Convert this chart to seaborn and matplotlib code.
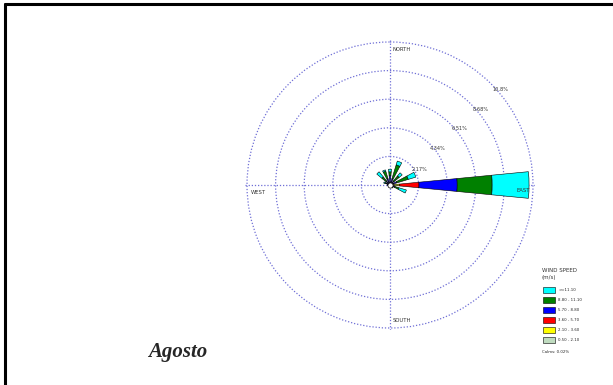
import numpy as np
import matplotlib
matplotlib.use('Agg')
import matplotlib.pyplot as plt
import seaborn as sns
from matplotlib.lines import Line2D

sns.set_style('white')
plt.rcParams['font.family'] = ['DejaVu Sans']

# 16 directions, compass degrees (N, NNE, ... NNW)
directions = np.arange(16) * 22.5
speed_labels = ['0.50 - 2.10', '2.10 - 3.60', '3.60 - 5.70',
                '5.70 - 8.80', '8.80 - 11.10', '>=11.10']
speed_colors = ['#c0dcc0', '#ffff00', '#ff0000', '#0000ff', '#008000', '#00ffff']
# frequency (%) per speed class and direction
c1 = [0.05, 0.05, 0.05, 0.05, 0.30, 0.05, 0.05, 0.03, 0.03, 0.03, 0.03, 0.03, 0.05, 0.05, 0.05, 0.05]
c2 = [0.05, 0.05, 0.05, 0.05, 0.40, 0.05, 0.05, 0.03, 0.03, 0.02, 0.02, 0.03, 0.05, 0.05, 0.05, 0.05]
c3 = [0.10, 0.10, 0.10, 0.15, 1.50, 0.10, 0.05, 0.03, 0.02, 0.02, 0.02, 0.03, 0.05, 0.10, 0.10, 0.10]
c4 = [0.50, 0.30, 0.20, 0.30, 2.90, 0.20, 0.05, 0.02, 0.02, 0.02, 0.02, 0.02, 0.05, 0.10, 0.20, 0.30]
c5 = [0.30, 1.10, 0.50, 0.90, 2.65, 0.30, 0.05, 0.00, 0.00, 0.00, 0.00, 0.00, 0.00, 0.10, 0.40, 0.60]
c6 = [0.20, 0.30, 0.30, 0.60, 2.80, 0.60, 0.05, 0.00, 0.00, 0.00, 0.00, 0.00, 0.00, 0.10, 0.50, 0.10]
classes = [c1, c2, c3, c4, c5, c6]
rings = [2.17, 4.34, 6.51, 8.68, 10.85]
ring_labels = ['2.17%', '4.34%', '6.51%', '8.68%', '10.8%']
calms = '0.02%'

fig = plt.figure(figsize=(6.13, 3.85), dpi=100)
W, H = 613, 385
rmax = 11.0
cx, cy = 390, 185
R = 143 * rmax / rings[-1]
ax = fig.add_axes([(cx - R) / W, (H - cy - R) / H, 2 * R / W, 2 * R / H], projection='polar')
ax.set_theta_zero_location('N')
ax.set_theta_direction(-1)

theta = np.deg2rad(directions)
bottom = np.zeros(16)
handles = []
for vals, col, lab in zip(classes, speed_colors, speed_labels):
    vals = np.array(vals)
    b = ax.bar(theta, vals, width=np.deg2rad(11), bottom=bottom, color=col,
               edgecolor='black', linewidth=0.4, label=lab, zorder=3)
    handles.append(b)
    bottom += vals

# calm circle in the middle
ax.scatter([0], [0], s=14, facecolor='white', edgecolor='black', linewidth=0.5, zorder=5)

ax.set_ylim(0, rmax)
ax.set_rgrids(rings, [''] * len(rings))
ax.set_thetagrids([0, 90, 180, 270], labels=['', '', '', ''])
ax.grid(True, color='#6f6fd6', linestyle=(0, (1, 1.5)), linewidth=0.9)
ax.spines['polar'].set_visible(False)
ax.set_facecolor('white')

# ring labels, just outside each ring on the NE diagonal
lab_ang = [62, 52, 51, 50, 49]
lab_off = [0.41, 0.20, 0.29, 0.26, 0.23]
for r, lab, a, o in zip(rings, ring_labels, lab_ang, lab_off):
    ax.text(np.deg2rad(a), r + o, lab, fontsize=3.6, color='#333333',
            ha='center', va='center', clip_on=False, zorder=6)

kw = dict(fontsize=3.8, color='#333333', zorder=6)
ax.text(np.deg2rad(1.0), 10.3, 'NORTH', ha='left', va='center', **kw)
ax.text(np.deg2rad(92.5), 10.1, 'EAST', ha='center', va='center', **kw)
ax.text(np.deg2rad(179.0), 10.3, 'SOUTH', ha='left', va='center', **kw)
ax.text(np.deg2rad(267), 10.6, 'WEST', ha='left', va='center', **kw)

fig.text(542 / W, 1 - 270 / H, 'WIND SPEED', fontsize=4, color='#333333', va='center')
fig.text(542 / W, 1 - 278 / H, '(m/s)', fontsize=4, color='#333333', va='center')
leg = fig.legend(handles[::-1], speed_labels[::-1], loc='upper left',
                 bbox_to_anchor=(543 / W, 1 - 287 / H), frameon=False,
                 fontsize=2.8, handlelength=3.0, handleheight=2.1,
                 labelspacing=0.95, handletextpad=0.9, borderpad=0, borderaxespad=0)
fig.text(542 / W, 1 - 352 / H, 'Calms: ' + calms, fontsize=2.8, va='center')

fig.text(148 / W, 1 - 352 / H, 'Agosto', fontsize=15, fontweight='bold',
         fontstyle='italic', family='Liberation Serif', va='center', ha='left')

# page frame lines
fig.add_artist(Line2D([4.5 / W, 4.5 / W], [0, 1 - 3.5 / H], transform=fig.transFigure,
                      color='black', lw=2.2))
fig.add_artist(Line2D([4.5 / W, 1], [1 - 3.5 / H, 1 - 3.5 / H], transform=fig.transFigure,
                      color='black', lw=2.2))

fig.savefig('out.png', dpi=100)
